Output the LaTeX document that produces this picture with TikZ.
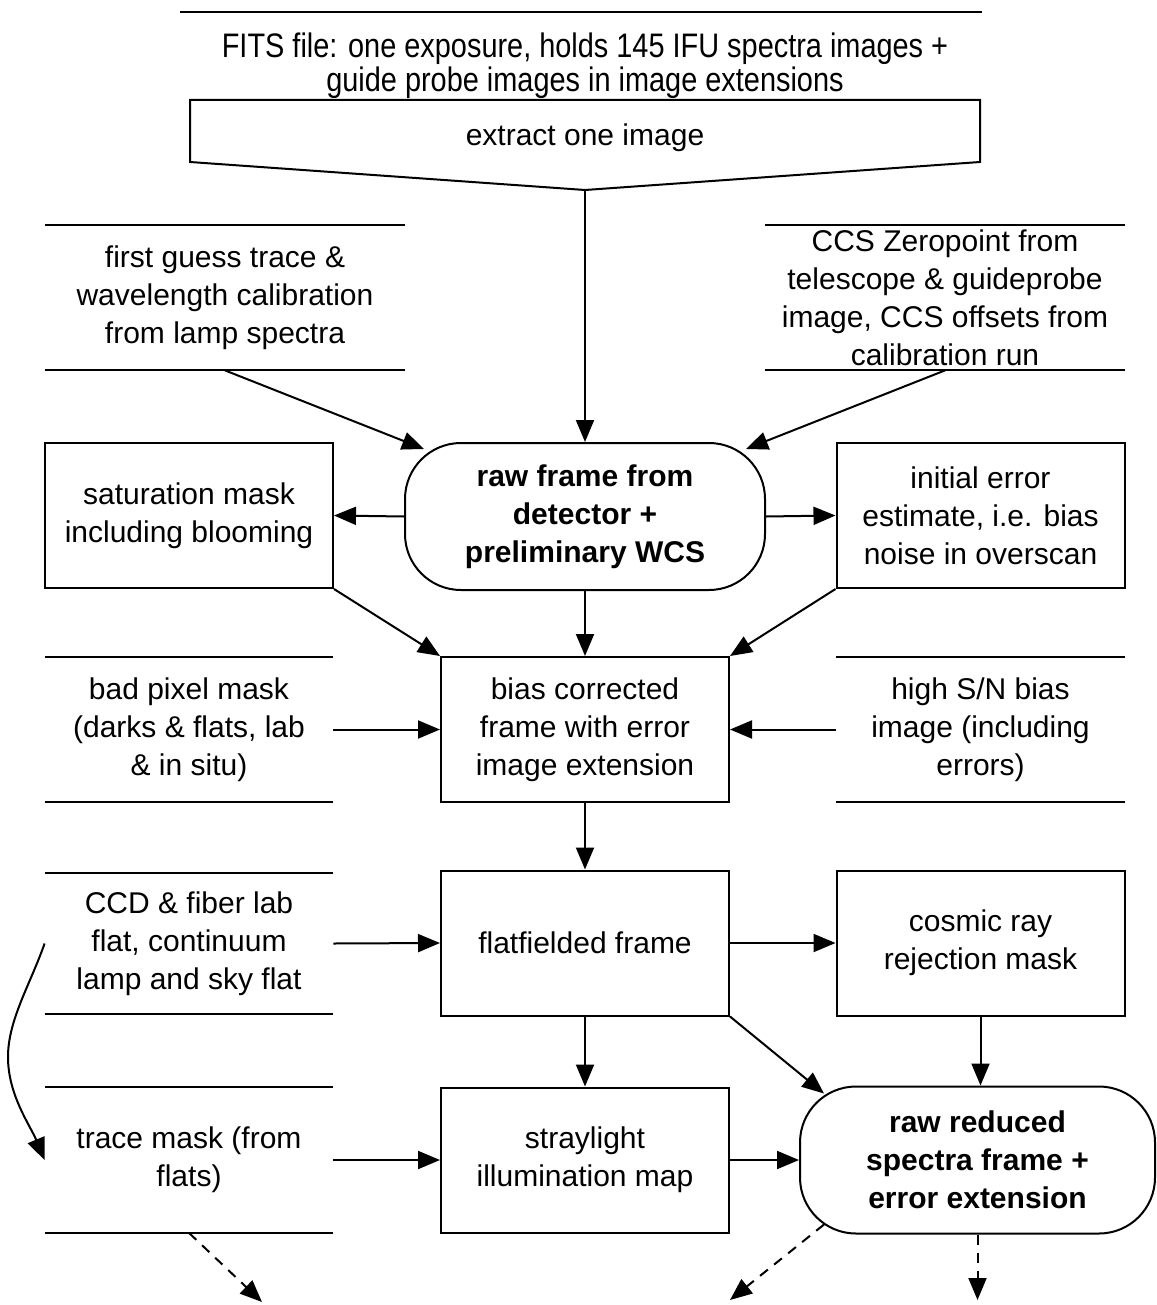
\documentclass[tikz,border=0pt]{standalone}
\usepackage{fontspec}
\setmainfont{Liberation Sans}
\newfontfamily\narrowfont[FakeStretch=0.85]{Liberation Sans}
\usetikzlibrary{positioning,arrows.meta,calc}
\newcommand{\storelines}[1]{\draw[line width=1pt] (#1.north west) -- (#1.north east) (#1.south west) -- (#1.south east);}
\tikzset{
  flow/.style={-{Triangle[length=11pt,width=9pt]},line width=1pt},
  feed/.style={flow,dash pattern=on 5pt off 4pt},
  procbox/.style={draw,line width=1pt,minimum width=144pt,minimum height=72.5pt,align=center,inner sep=2pt},
  datastore/.style={minimum width=144pt,minimum height=72.5pt,align=center,inner sep=2pt},
  result/.style={draw,line width=1pt,rounded corners=28pt,minimum width=180pt,minimum height=73.5pt,align=center,font=\fontsize{15}{19}\selectfont\bfseries}
}

\begin{document}
\begin{tikzpicture}[x=0.5pt,y=-0.5pt,font=\fontsize{15}{19}\selectfont]
  \useasboundingbox (0,0) rectangle (1156,1305);
  % source file and extraction
  \draw[line width=1pt] (180,12) -- (982,12);
  \node[font=\fontsize{17}{17}\narrowfont,align=center] (fits) at (585,66) {FITS file: one exposure, holds 145 IFU spectra images +\\guide probe images in image extensions};
  \coordinate (extip) at (585,190);
  \draw[line width=1pt] (190,100) -- (980,100) -- (980,162) -- (extip) -- (190,162) -- cycle;
  \node (extract) at (585,138) {extract one image};
  % calibration inputs
  \node[datastore,minimum width=180pt] (guess) at (225,297.5) {first guess trace \&\\wavelength calibration\\from lamp spectra};
  \node[datastore,minimum width=180pt] (ccs) at (945,297.5) {CCS Zeropoint from\\telescope \& guideprobe\\image, CCS offsets from\\calibration run};
  \storelines{guess}
  \storelines{ccs}
  % raw frame
  \node[result] (raw) at (585,516.5) {raw frame from\\detector +\\preliminary WCS};
  \node[procbox] (satmask) at (189,515.5) {saturation mask\\including blooming};
  \node[procbox] (errinit) at (980.5,515.5) {initial error\\estimate, i.e. bias\\noise in overscan};
  % bias step
  \node[procbox] (bias) at (585,729.5) {bias corrected\\frame with error\\image extension};
  \node[datastore] (badpix) at (189,729.5) {bad pixel mask\\(darks \& flats, lab\\\& in situ)};
  \node[datastore] (hisn) at (980.5,729.5) {high S/N bias\\image (including\\errors)};
  \storelines{badpix}
  \storelines{hisn}
  % flatfield step
  \node[procbox] (flat) at (585,943) {flatfielded frame};
  \node[procbox] (cosmic) at (980.5,943) {cosmic ray\\rejection mask};
  \node[datastore,minimum height=70.5pt] (ccd) at (189,943.5) {CCD \& fiber lab\\flat, continuum\\lamp and sky flat};
  \storelines{ccd}
  % straylight and result
  \node[datastore] (trace) at (189,1160) {trace mask (from\\flats)};
  \node[procbox] (stray) at (585,1160) {straylight\\illumination map};
  \node[result,minimum width=177.5pt] (reduced) at (977.5,1160) {raw reduced\\spectra frame +\\error extension};
  \storelines{trace}
  % connectors
  \draw[flow] (extip) -- (raw.north);
  \draw[flow] (guess.south) -- ($(raw.north west)+(20,7)$);
  \draw[flow] (ccs.south) -- ($(raw.north east)+(-20,7)$);
  \draw[flow] (raw.west) -- (satmask.east);
  \draw[flow] (raw.east) -- (errinit.west);
  \draw[flow] (raw.south) -- (bias.north);
  \draw[flow] (satmask.south east) -- (bias.north west);
  \draw[flow] (errinit.south west) -- (bias.north east);
  \draw[flow] (badpix.east) -- (bias.west);
  \draw[flow] (hisn.west) -- (bias.east);
  \draw[flow] (bias.south) -- (flat.north);
  \draw[flow] (ccd.east) -- (flat.west);
  \draw[flow] (flat.east) -- (cosmic.west);
  \draw[flow] (flat.south) -- (stray.north);
  \draw[flow] (flat.south east) -- ($(reduced.north west)+(25,8)$);
  \draw[flow] (cosmic.south) -- (cosmic.south |- reduced.north);
  \draw[flow] (trace.east) -- (stray.west);
  \draw[flow] (stray.east) -- (reduced.west);
  \draw[flow] (ccd.west) .. controls (30,985) and (8,1020) .. (8,1057) .. controls (8,1095) and (30,1125) .. (trace.west);
  % outgoing
  \coordinate (outA) at (262,1302);
  \coordinate (outB) at (730,1300);
  \coordinate (outC) at (977.5,1300);
  \draw[feed] (trace.south) -- (outA);
  \draw[feed] ($(reduced.south west)+(25,-10)$) -- (outB);
  \draw[feed] (reduced.south) -- (outC);
\end{tikzpicture}
\end{document}
